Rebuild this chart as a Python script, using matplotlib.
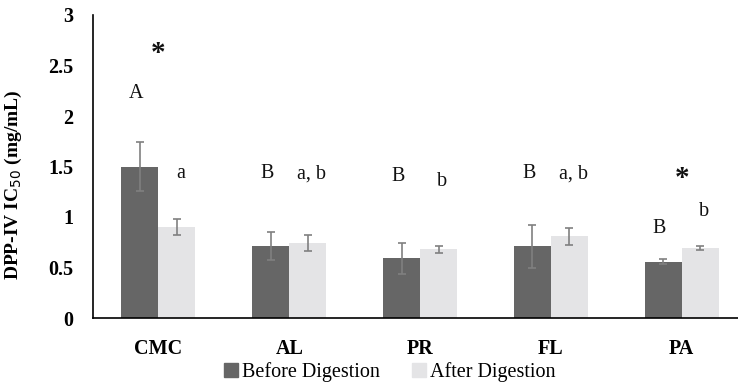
"""DPP-IV IC50 before/after simulated digestion, grouped bars with letters."""
import matplotlib
matplotlib.use("Agg")
import matplotlib.pyplot as plt  # noqa: E402
import numpy as np  # noqa: E402
from matplotlib.patches import Patch  # noqa: E402

samples = ["CMC", "AL", "PR", "FL", "PA"]
before = [1.50, 0.71, 0.59, 0.71, 0.555]
before_err = [0.24, 0.14, 0.155, 0.21, 0.025]
after = [0.90, 0.74, 0.68, 0.81, 0.69]
after_err = [0.08, 0.08, 0.035, 0.085, 0.02]

# significance letters over each pair
upper_letters = ["A", "B", "B", "B", "B"]
upper_y = [2.22, 1.43, 1.40, 1.43, 0.89]
lower_letters = ["a", "a, b", "b", "a, b", "b"]
lower_y = [1.43, 1.43, 1.35, 1.43, 1.05]
star_idx = [0, 4]
star_y = [2.62, 1.38]

plt.rcParams["font.family"] = ["Liberation Serif", "DejaVu Serif"]
DARK, LIGHT, ERR = "#666666", "#e4e4e6", "#808080"
FS = 14.5

fig = plt.figure(figsize=(7.38, 3.88), dpi=100)
ax = fig.add_axes([93 / 738, 70 / 388, 1 - 93 / 738, 303 / 388])

x = np.arange(len(samples))
w = 0.283
ax.bar(x - w / 2, before, w, color=DARK, label="Before Digestion")
ax.bar(x + w / 2, after, w, color=LIGHT, label="After Digestion")
ax.errorbar(x - w / 2, before, yerr=before_err, fmt="none", ecolor=ERR, elinewidth=1.2, capsize=3, capthick=1.2)
ax.errorbar(x + w / 2, after, yerr=after_err, fmt="none", ecolor=ERR, elinewidth=1.2, capsize=3, capthick=1.2)

for i, (t, y) in enumerate(zip(upper_letters, upper_y)):
    ax.text(x[i] - 0.17, y, t, ha="center", va="center", fontsize=FS, color="#111111")
for i, (t, y) in enumerate(zip(lower_letters, lower_y)):
    ax.text(x[i] + 0.17, y, t, ha="center", va="center", fontsize=FS, color="#111111")
for i, y in zip(star_idx, star_y):
    ax.text(x[i], y, "*", ha="center", va="center", fontsize=21, fontweight="bold", color="#111111")

ax.set_xlim(-0.5, 4.43)
ax.set_ylim(0, 3)
ax.set_yticks([0, 0.5, 1, 1.5, 2, 2.5, 3])
ax.set_yticklabels(["0", "0.5", "1", "1.5", "2", "2.5", "3"])
ax.set_xticks(x)
ax.set_xticklabels(samples)
for lbl in ax.get_xticklabels() + ax.get_yticklabels():
    lbl.set_fontweight("bold")
    lbl.set_fontsize(FS)
ax.tick_params(axis="y", length=0, pad=14)
ax.tick_params(axis="x", length=0, pad=15)
ax.spines["top"].set_visible(False)
ax.spines["right"].set_visible(False)
ax.spines["left"].set_linewidth(1.2)
ax.spines["bottom"].set_linewidth(1.2)
ax.set_ylabel("DPP-IV IC$_{50}$ (mg/mL)", fontsize=14, fontweight="bold")
ax.yaxis.set_label_coords(-0.107, 0.44)

handles = [Patch(color=DARK), Patch(color=LIGHT)]
fig.legend(handles, ["Before Digestion", "After Digestion"], loc="center", bbox_to_anchor=(390 / 738, 1 - 372 / 388),
           ncol=2, frameon=False, fontsize=FS, handlelength=0.7, handleheight=0.7, handletextpad=0.2, columnspacing=1.6)

fig.savefig("out.png", dpi=100)
